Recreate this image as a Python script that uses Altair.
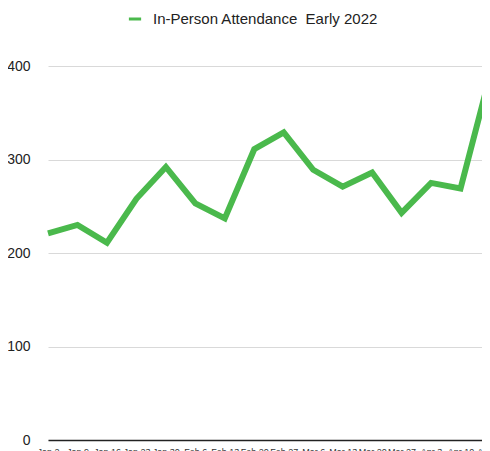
import altair as alt
import pandas as pd

weeks = ["Jan 2", "Jan 9", "Jan 16", "Jan 23", "Jan 30", "Feb 6", "Feb 13", "Feb 20",
         "Feb 27", "Mar 6", "Mar 13", "Mar 20", "Mar 27", "Apr 3", "Apr 10", "Apr 17"]
attendance = [221, 230, 211, 258, 292, 253, 237, 311, 329, 289, 271, 286, 243, 275, 269, 390]
series = "In-Person Attendance\u00a0 Early 2022"

df = pd.DataFrame({"week": weeks, "attendance": attendance, "series": series})

line = alt.Chart(df).mark_line(strokeWidth=6, strokeJoin="miter", strokeCap="butt", clip=False).encode(
    x=alt.X("week:N", sort=weeks, title=None,
            scale=alt.Scale(type="point", padding=0, range=[0, 442]),
            axis=alt.Axis(labelAngle=0, ticks=False, grid=False, domain=True,
                          domainColor="#222222", domainWidth=1.5,
                          labelPadding=7, labelFontSize=9, labelColor="#333333",
                          labelFont="Liberation Sans", labelOverlap=False)),
    y=alt.Y("attendance:Q", title=None,
            scale=alt.Scale(domain=[0, 400], nice=False),
            axis=alt.Axis(values=[0, 100, 200, 300, 400], ticks=False, domain=False,
                          gridColor="#d9d9d9", gridWidth=1, labelPadding=18,
                          labelFontSize=14, labelColor="#222222",
                          labelFont="Liberation Sans")),
    color=alt.Color("series:N", title=None,
                    scale=alt.Scale(range=["#4ab94c"]),
                    legend=alt.Legend(orient="none", legendX=79, legendY=-55,
                                      symbolType="stroke", symbolStrokeWidth=3,
                                      symbolSize=150, labelFontSize=15,
                                      labelFont="Liberation Sans", labelColor="#222222",
                                      labelOffset=10, labelLimit=400)),
)

chart = line.properties(
    width=434, height=374,
    autosize=alt.AutoSizeParams(type="none"),
    padding={"left": 40, "top": 58, "right": 0, "bottom": 12},
).configure_view(stroke=None)

chart.save("out.html", embed_options={"renderer": "svg", "actions": False})
